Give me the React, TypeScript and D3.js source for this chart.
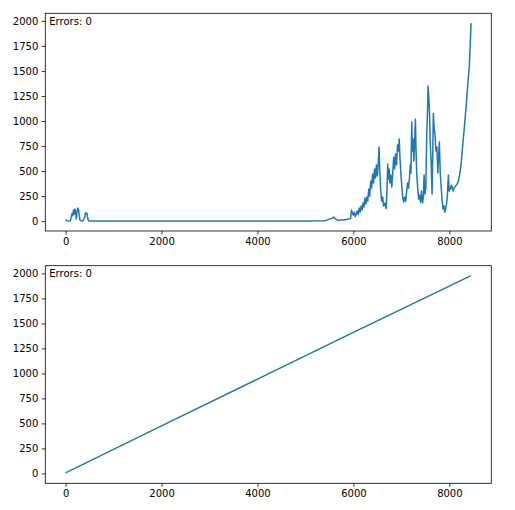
import * as d3 from 'd3';
import { useEffect, useRef } from 'react';

// top panel: values (x = step, y = value)
const topX = [
    0, 20, 40, 60, 100, 120, 135, 150, 165, 180, 195, 210, 225, 240, 255, 270, 285, 300, 320, 360,
    400, 415, 430, 445, 460, 480, 520, 1000, 2000, 3000, 4000, 5000, 5400,
    5450, 5500, 5560, 5590, 5620, 5660, 5700, 5750, 5800, 5850, 5900, 5940, 5960, 5980, 6000,
    6020, 6040, 6060, 6080, 6100, 6120, 6140, 6160, 6180, 6200, 6220, 6240, 6260, 6280, 6300,
    6320, 6340, 6360, 6380, 6400, 6420, 6440, 6460, 6480, 6500, 6520, 6535, 6550, 6570, 6590,
    6610, 6630, 6660, 6681, 6700, 6715, 6730, 6745, 6760, 6780, 6800, 6820, 6840, 6860, 6880,
    6900, 6920, 6940, 6955, 6970, 6990, 7010, 7030, 7050, 7070, 7090, 7110, 7130, 7150, 7170,
    7185, 7200, 7216, 7230, 7245, 7260, 7275, 7292, 7305, 7320, 7340, 7360, 7380, 7400, 7420,
    7440, 7460, 7473, 7490, 7510, 7529, 7545, 7556, 7570, 7585, 7600, 7620, 7640, 7655, 7667,
    7680, 7700, 7720, 7740, 7760, 7775, 7792, 7810, 7830, 7850, 7870, 7890, 7905, 7920, 7940,
    7960, 7979, 7995, 8010, 8025, 8040, 8060, 8080, 8100, 8130, 8160, 8190, 8223, 8250, 8292,
    8330, 8362, 8390, 8417, 8435, 8452,
];
const topY = [
    17, 5, 2, 2, 3, 40, 77, 55, 110, 70, 120, 90, 20, 100, 130, 115, 60, 10, 3, 2,
    40, 83, 70, 80, 30, 3, 2, 2, 2, 2, 2, 2, 3,
    10, 20, 30, 40, 25, 12, 8, 12, 10, 15, 20, 25, 110, 80, 60,
    90, 45, 70, 100, 65, 130, 90, 150, 110, 180, 140, 230, 170, 240, 200,
    320, 250, 400, 330, 470, 380, 520, 430, 560, 450, 600, 740, 500, 300, 200,
    240, 150, 180, 125, 300, 570, 420, 520, 380, 460, 340, 480, 640, 520, 670,
    560, 760, 700, 820, 640, 470, 340, 230, 190, 240, 200, 300, 380, 330, 440,
    560, 480, 990, 700, 820, 600, 760, 1020, 720, 470, 330, 220, 260, 190, 300,
    180, 240, 460, 270, 330, 870, 1100, 1350, 1250, 1100, 800, 600, 270, 700, 1075,
    950, 870, 700, 740, 480, 640, 790, 480, 340, 200, 120, 150, 90, 110, 170,
    260, 460, 300, 330, 320, 360, 340, 300, 330, 350, 370, 400, 490, 600, 825,
    1030, 1224, 1400, 1552, 1760, 1977,
];

// bottom panel
const botX = [0, 2000, 4000, 6000, 8452];
const botY = [5, 475, 942, 1410, 1978];

const xTicks = [0, 2000, 4000, 6000, 8000];
const yTicks = [0, 250, 500, 750, 1000, 1250, 1500, 1750, 2000];
const label = 'Errors: 0';

export default function App() {
    const ref = useRef<SVGSVGElement | null>(null);

    useEffect(() => {
        if (!ref.current) return;
        const svg = d3.select(ref.current);
        svg.selectAll('*').remove();

        const left = 45.3;
        const right = 491.3;
        const panels = [
            { top: 13.3, bottom: 231, xs: topX, ys: topY },
            { top: 265.7, bottom: 483.3, xs: botX, ys: botY },
        ];

        panels.forEach((p) => {
            const xMax = d3.max(p.xs)!;
            const yMin = d3.min(p.ys)!;
            const yMax = d3.max(p.ys)!;
            const ySpan = yMax - Math.min(yMin, 0);
            const x = d3
                .scaleLinear()
                .domain([-0.05 * xMax, 1.05 * xMax])
                .range([left, right]);
            const y = d3
                .scaleLinear()
                .domain([Math.min(yMin, 0) - 0.05 * ySpan, yMax + 0.05 * ySpan])
                .range([p.bottom, p.top]);

            const g = svg.append('g');

            const line = d3
                .line<number>()
                .x((_, i) => x(p.xs[i]))
                .y((d) => y(d));

            g.append('path')
                .datum(p.ys)
                .attr('d', line)
                .attr('fill', 'none')
                .attr('stroke', '#1f77b4')
                .attr('stroke-width', 1.5)
                .attr('stroke-linejoin', 'round');

            g.append('g')
                .attr('transform', `translate(0,${p.bottom})`)
                .call(d3.axisBottom(x).tickValues(xTicks).tickSize(3.5).tickPadding(3.5).tickFormat(d3.format('d')))
                .call((a) => a.select('.domain').remove());

            g.append('g')
                .attr('transform', `translate(${left},0)`)
                .call(d3.axisLeft(y).tickValues(yTicks).tickSize(3.5).tickPadding(3.5).tickFormat(d3.format('d')))
                .call((a) => a.select('.domain').remove());

            g.selectAll('.tick text')
                .attr('font-family', 'DejaVu Sans')
                .attr('font-size', 10)
                .attr('fill', '#000');
            g.selectAll('.tick line').attr('stroke', '#000').attr('stroke-width', 0.8);

            g.append('rect')
                .attr('x', left)
                .attr('y', p.top)
                .attr('width', right - left)
                .attr('height', p.bottom - p.top)
                .attr('fill', 'none')
                .attr('stroke', '#000')
                .attr('stroke-width', 0.8);

            g.append('text')
                .attr('x', left + 4)
                .attr('y', p.top + 11.5)
                .attr('font-family', 'DejaVu Sans')
                .attr('font-size', 10)
                .attr('fill', '#000')
                .text(label);
        });
    }, []);

    return (
        <svg
            ref={ref}
            width={515}
            height={510}
            style={{ position: 'absolute', left: 0, top: 0, background: '#fff' }}
        />
    );
}
